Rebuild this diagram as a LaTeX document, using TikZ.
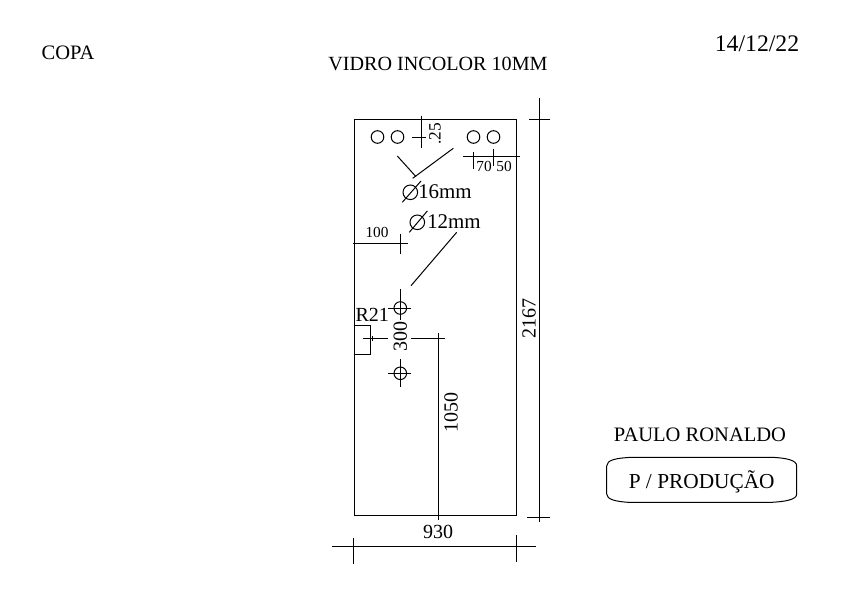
\documentclass[tikz,border=0pt]{standalone}
\usepackage{fontspec}
\setmainfont{Liberation Serif}
\tikzset{
  dimline/.style={line width=0.75pt, black},
  bigtext/.style={font=\fontsize{15.4}{18}\selectfont, inner sep=0pt},
  midtext/.style={font=\fontsize{15}{17}\selectfont, inner sep=0pt},
  smalltext/.style={font=\fontsize{11.5}{13}\selectfont, inner sep=0pt}
}
\begin{document}
\begin{tikzpicture}[x=0.75pt,y=-0.75pt]
\useasboundingbox (0,0) rectangle (866,609);

% titles
\node [bigtext] (copa) at (68,52.5) {COPA};
\node [bigtext, font=\fontsize{15.1}{18}\selectfont] (vidro) at (438,64) {VIDRO INCOLOR 10MM};
\node [bigtext, font=\fontsize{17.8}{20}\selectfont] (data) at (757,44) {14/12/22};
\node [bigtext] (paulo) at (700,434.5) {PAULO RONALDO};

% glass
\draw [dimline] (354.5,119.5) rectangle (516,515);

% top holes
\foreach \x in {377.5,397.5,473.5,493.5}
  \draw [dimline] (\x,137) circle (6.3);

\draw [dimline] (421.7,116) -- (421.7,148);
\draw [dimline] (412,137.5) -- (426,137.5);
\node [smalltext, font=\fontsize{13}{15}\selectfont, rotate=90] (dimA) at (435,134) {.25};

\draw [dimline] (463.3,156.3) -- (520,156.3);
\draw [dimline] (473.3,152) -- (473.3,169);
\draw [dimline] (493.3,149) -- (493.3,166);
\node [smalltext] (dimB) at (484,166) {70};
\node [smalltext] (dimC) at (504,166) {50};

% diameter 16
\draw [dimline] (397.3,156) -- (416,176.7);
\draw [dimline] (453.3,148.3) -- (412.7,178.3);
\draw [dimline] (410.3,192.3) circle (7.3);
\draw [dimline] (402.3,202.3) -- (421,181);
\node [midtext, font=\fontsize{15.7}{18}\selectfont, anchor=west] (furoA) at (418,192) {16mm};

% diameter 12
\draw [dimline] (417.3,222.3) circle (7.3);
\draw [dimline] (409.3,232.3) -- (427.3,211);
\node [midtext, font=\fontsize{15.7}{18}\selectfont, anchor=west] (furoB) at (427,222) {12mm};
\draw [dimline] (456.7,232.3) -- (411,285.7);

% 100
\draw [dimline] (353,243.3) -- (407.7,243.3);
\draw [dimline] (400.7,234) -- (400.7,254);
\node [smalltext] (dimD) at (377,232.7) {100};

% crossed holes
\draw [dimline] (400.3,308) circle (6.3);
\draw [dimline] (388,308) -- (411,308);
\draw [dimline] (400.3,289) -- (400.3,320);
\draw [dimline] (400.3,373.3) circle (6.3);
\draw [dimline] (388,373.3) -- (411,373.3);
\draw [dimline] (400.3,359) -- (400.3,387);

% notch
\node [midtext] (raio) at (372.3,315) {R21};
\draw [dimline] (354.5,325.3) -- (370.7,325.3) -- (370.7,354.3) -- (354.5,354.3);
\draw [dimline] (363,338.3) -- (387.7,338.3);
\draw [dimline] (372,336) -- (372,341);
\node [midtext, rotate=90] (dimE) at (400.3,336.7) {300};

% 1050
\draw [dimline] (411,338.3) -- (444.7,338.3);
\draw [dimline] (438.3,333) -- (438.3,520);
\node [midtext, rotate=90] (dimF) at (451,412.5) {1050};

% 2167
\draw [dimline] (539.7,98) -- (539.7,521.7);
\draw [dimline] (529,119.3) -- (550,119.3);
\draw [dimline] (527,517.3) -- (550,517.3);
\node [midtext, rotate=90] (dimG) at (529,318) {2167};

% 930
\draw [dimline] (332.3,546.3) -- (535.7,546.3);
\draw [dimline] (353.3,538) -- (353.3,564);
\draw [dimline] (516.3,535) -- (516.3,562);
\node [midtext] (dimH) at (438,531.7) {930};

% stamp
\draw [dimline] (632,457.3) -- (772,457.3)
  .. controls (786,458) and (796.7,460) .. (796.7,466)
  -- (796.7,494)
  .. controls (796.7,499.5) and (786,501.5) .. (772,502.3)
  -- (628,502.3)
  .. controls (616,501.5) and (606.7,499.5) .. (606.7,494)
  -- (606.7,466)
  .. controls (606.7,460) and (616,458) .. (632,457.3);
\node [bigtext, font=\fontsize{16}{18}\selectfont] (producao) at (701.7,482) {P / PRODUÇÃO};

\end{tikzpicture}
\end{document}
